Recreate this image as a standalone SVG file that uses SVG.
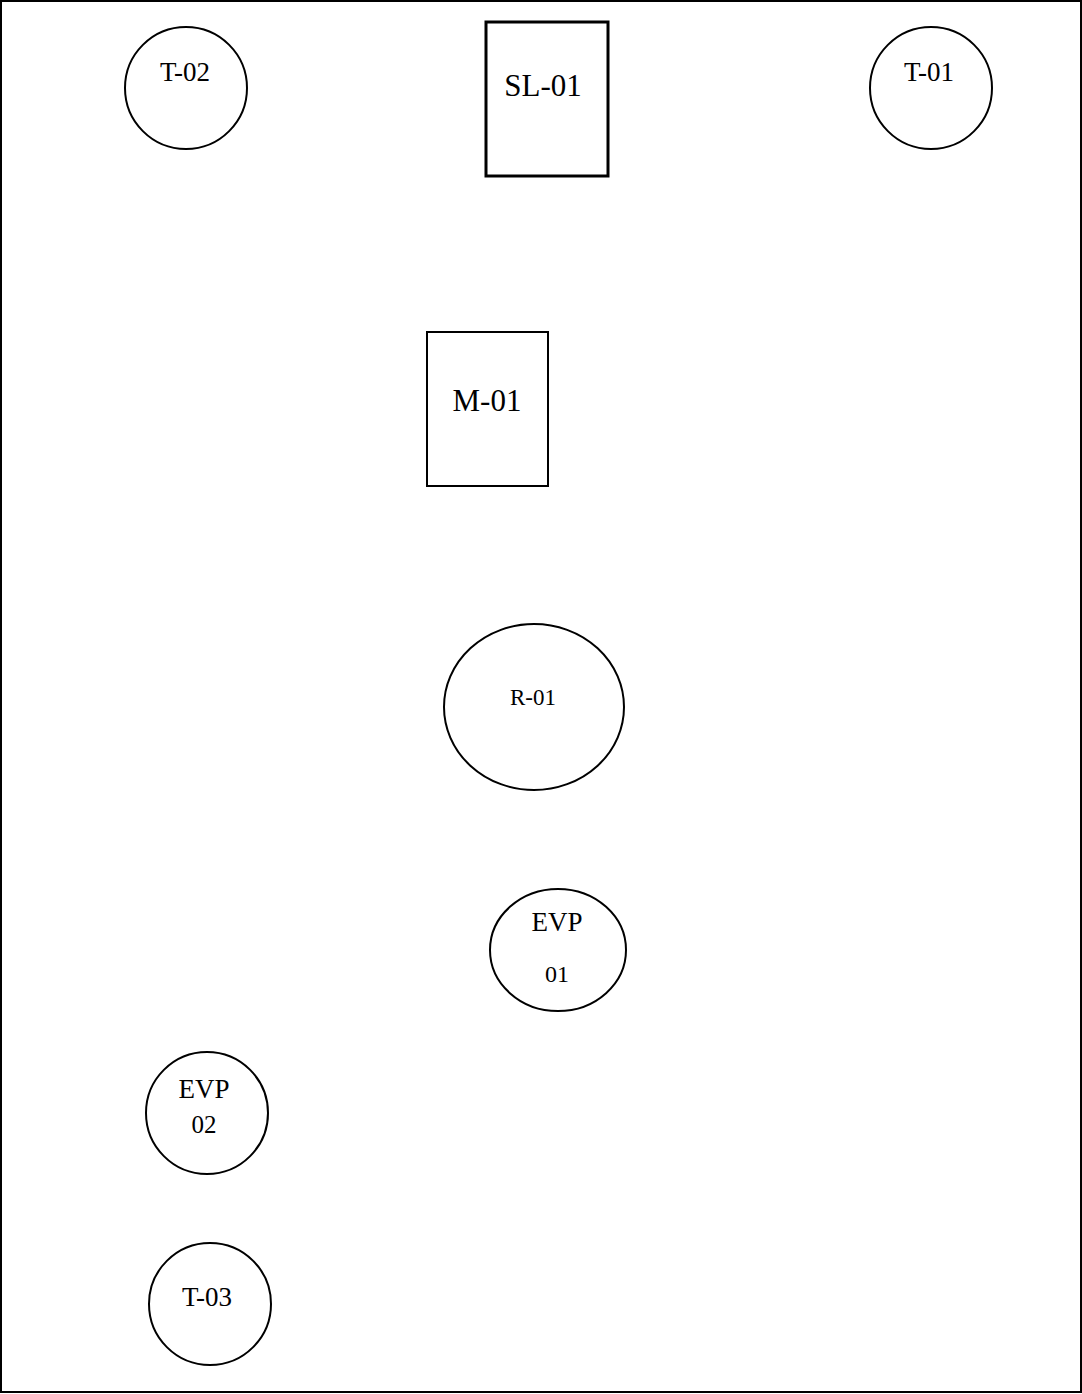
<svg xmlns="http://www.w3.org/2000/svg" width="1082" height="1394" viewBox="0 0 1082 1394">
<style>
.n{fill:#fff;stroke:#000;stroke-width:2}
.b{fill:#fff;stroke:#000;stroke-width:3}
text{font-family:"Liberation Serif","Times New Roman",serif;fill:#000;text-anchor:middle}
</style>
<rect x="1" y="1" width="1080" height="1391" fill="#fff" stroke="#000" stroke-width="2"/>
<g id="connectors"></g>
<g id="T-02"><circle class="n" cx="186" cy="88" r="61"/><text x="185" y="81" font-size="27">T-02</text></g>
<g id="SL-01"><rect class="b" x="486" y="22" width="122" height="154"/><text x="543" y="96" font-size="31">SL-01</text></g>
<g id="T-01"><circle class="n" cx="931" cy="88" r="61"/><text x="929" y="81" font-size="27">T-01</text></g>
<g id="M-01"><rect class="n" x="427" y="332" width="121" height="154"/><text x="487" y="411" font-size="31">M-01</text></g>
<g id="R-01"><ellipse class="n" cx="534" cy="707" rx="90" ry="83"/><text x="533" y="705" font-size="23" fill="#333">R-01</text></g>
<g id="EVP-01"><ellipse class="n" cx="558" cy="950" rx="68" ry="61"/><text x="557" y="931" font-size="27">EVP</text><text x="557" y="982" font-size="24" fill="#222">01</text></g>
<g id="EVP-02"><circle class="n" cx="207" cy="1113" r="61"/><text x="204" y="1098" font-size="27">EVP</text><text x="204" y="1133" font-size="25">02</text></g>
<g id="T-03"><circle class="n" cx="210" cy="1304" r="61"/><text x="207" y="1306" font-size="27">T-03</text></g>
</svg>
